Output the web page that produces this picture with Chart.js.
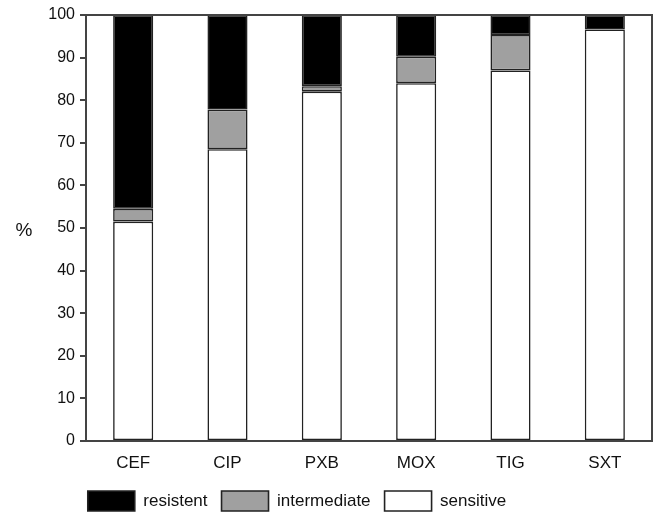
<!DOCTYPE html>
<html><head><meta charset="utf-8">
<script src="https://cdn.jsdelivr.net/npm/chart.js@4.4.1/dist/chart.umd.min.js"></script>
<style>html,body{margin:0;padding:0;background:#fff}#wrap{width:654px;height:517px}</style>
</head><body><div id="wrap"><canvas id="c" width="654" height="517"></canvas></div>
<script>
const categories = ["CEF", "CIP", "PXB", "MOX", "TIG", "SXT"];
const sensitive = [51.5, 68.5, 82.0, 84.0, 87.0, 96.6];
const intermediate = [3.0, 9.3, 1.3, 6.2, 8.3, 0.0];
const resistent = [45.5, 22.2, 16.7, 9.8, 4.7, 3.4];
const yTicks = [0, 10, 20, 30, 40, 50, 60, 70, 80, 90, 100];
const yTitle = "%";

const FONT = 'Liberation Sans, Arial, sans-serif';

const framePlugin = {
  id: 'frame',
  afterLayout(chart) {
    const lg = chart.legend;
    if (lg) {
      lg.left -= 29; lg.right -= 29;
      lg.top += 8; lg.bottom += 8;
    }
  },
  afterDraw(chart) {
    const {ctx, chartArea: a} = chart;
    ctx.save();
    ctx.strokeStyle = '#444';
    ctx.lineWidth = 2;
    ctx.beginPath();
    ctx.moveTo(a.left, a.top);
    ctx.lineTo(a.right, a.top);
    ctx.lineTo(a.right, a.bottom);
    ctx.stroke();
    ctx.fillStyle = '#111';
    ctx.font = '19px ' + FONT;
    ctx.textAlign = 'center';
    ctx.textBaseline = 'middle';
    ctx.fillText(yTitle, 24, (a.top + a.bottom) / 2 + 3);
    ctx.restore();
  }
};

const common = {borderColor: '#222', borderWidth: 1.6, barPercentage: 0.425, categoryPercentage: 1.0, borderSkipped: false};
new Chart(document.getElementById('c'), {
  type: 'bar',
  data: {
    labels: categories,
    datasets: [
      Object.assign({label: 'sensitive', data: sensitive, backgroundColor: '#ffffff'}, common),
      Object.assign({label: 'intermediate', data: intermediate, backgroundColor: '#a0a0a0'}, common),
      Object.assign({label: 'resistent', data: resistent, backgroundColor: '#000000'}, common)
    ]
  },
  options: {
    responsive: false,
    animation: false,
    layout: {padding: {top: 15, right: 2, left: 0, bottom: 4}},
    plugins: {
      tooltip: {enabled: false},
      legend: {
        position: 'bottom',
        reverse: true,
        labels: {
          boxWidth: 47, boxHeight: 20, padding: 14,
          color: '#111',
          font: {family: FONT, size: 17}
        }
      }
    },
    scales: {
      x: {
        stacked: true,
        grid: {display: false},
        border: {display: true, color: '#444', width: 2},
        ticks: {color: '#111', padding: 4, font: {family: FONT, size: 17}},
        afterFit(s) { s.height = 28; }
      },
      y: {
        stacked: true,
        min: 0, max: 100,
        afterBuildTicks(s) { s.ticks = yTicks.map(v => ({value: v})); },
        grid: {drawOnChartArea: false, drawTicks: true, tickLength: 6, color: '#444', lineWidth: 2},
        border: {display: true, color: '#444', width: 2},
        ticks: {color: '#111', padding: 5, font: {family: FONT, size: 16}},
        title: {display: false},
        afterFit(s) { s.width = 86; }
      }
    }
  },
  plugins: [framePlugin]
});
</script></body></html>
